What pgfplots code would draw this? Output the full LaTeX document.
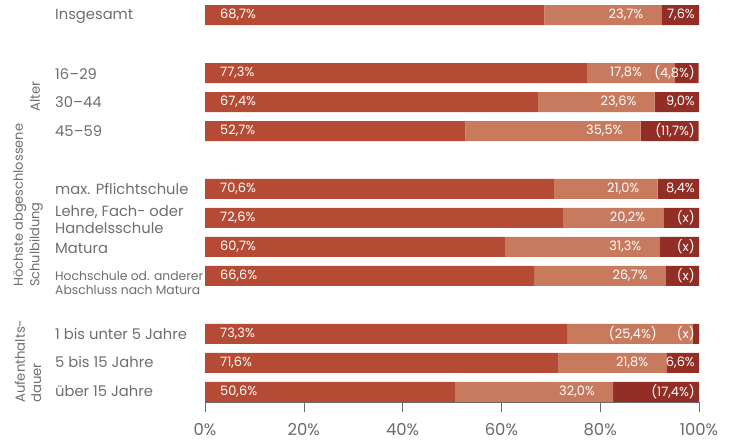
\documentclass[border=0pt]{standalone}
\usepackage{pgfplots}
\pgfplotsset{compat=1.18}
\usepackage{fontspec}
\setmainfont{Poppins}
\definecolor{cA}{HTML}{B54B34}
\definecolor{cB}{HTML}{C87A5E}
\definecolor{cC}{HTML}{922E25}
\definecolor{txt}{HTML}{6E6E6E}
\definecolor{axc}{HTML}{6A6A6A}
\begin{document}
\begin{tikzpicture}
\path[use as bounding box] (0,0) rectangle (732bp,443bp);
\begin{axis}[at={(205bp,41bp)}, anchor=south west, scale only axis,
  width=494bp, height=402bp,
  xmin=0, xmax=100, ymin=-13.35, ymax=0.52,
  xbar stacked, bar width=20bp,
  axis x line*=bottom, axis y line*=left,
  y axis line style={draw=none},
  x axis line style={draw=axc, line width=0.6pt},
  xtick={0,20,...,100},
  xticklabel={\pgfmathprintnumber{\tick}\%},
  /pgf/number format/assume math mode=true,
  x tick label style={font=\fontsize{16.5}{19}\selectfont, text=axc, yshift=-8bp},
  x tick style={draw=axc, line width=0.6pt},
  tick align=outside, major tick length=10bp,
  ytick=\empty,
  clip=false,
]
\addplot[fill=cA, draw=none] coordinates {(68.7,0) (77.3,-2) (67.4,-3) (52.7,-4) (70.6,-6) (72.6,-7) (60.7,-8) (66.6,-9) (73.3,-11) (71.6,-12) (50.6,-13)};
\addplot[fill=cB, draw=none] coordinates {(23.7,0) (17.8,-2) (23.6,-3) (35.5,-4) (21.0,-6) (20.2,-7) (31.3,-8) (26.7,-9) (25.4,-11) (21.8,-12) (32.0,-13)};
\addplot[fill=cC, draw=none] coordinates {(7.6,0) (4.8,-2) (9.0,-3) (11.7,-4) (8.4,-6) (7.2,-7) (8.0,-8) (6.7,-9) (1.3,-11) (6.6,-12) (17.4,-13)};
\coordinate (a0) at (axis cs:0,0);   \coordinate (b0) at (axis cs:92.4,0);  \coordinate (c0) at (axis cs:100,0);
\coordinate (a2) at (axis cs:0,-2);  \coordinate (b2) at (axis cs:88.5,-2); \coordinate (c2) at (axis cs:100,-2);
\coordinate (a3) at (axis cs:0,-3);  \coordinate (b3) at (axis cs:91.0,-3); \coordinate (c3) at (axis cs:100,-3);
\coordinate (a4) at (axis cs:0,-4);  \coordinate (b4) at (axis cs:88.2,-4); \coordinate (c4) at (axis cs:100,-4);
\coordinate (a6) at (axis cs:0,-6);  \coordinate (b6) at (axis cs:91.6,-6); \coordinate (c6) at (axis cs:100,-6);
\coordinate (a7) at (axis cs:0,-7);  \coordinate (b7) at (axis cs:92.8,-7); \coordinate (c7) at (axis cs:100,-7);
\coordinate (a8) at (axis cs:0,-8);  \coordinate (b8) at (axis cs:92.0,-8); \coordinate (c8) at (axis cs:100,-8);
\coordinate (a9) at (axis cs:0,-9);  \coordinate (b9) at (axis cs:93.3,-9); \coordinate (c9) at (axis cs:100,-9);
\coordinate (a11) at (axis cs:0,-11); \coordinate (b11) at (axis cs:91.5,-11); \coordinate (c11) at (axis cs:100,-11);
\coordinate (a12) at (axis cs:0,-12); \coordinate (b12) at (axis cs:93.4,-12); \coordinate (c12) at (axis cs:100,-12);
\coordinate (a13) at (axis cs:0,-13); \coordinate (b13) at (axis cs:82.6,-13); \coordinate (c13) at (axis cs:100,-13);
\end{axis}
\tikzset{lbl/.style={text=white, font=\fontsize{13}{15}\selectfont, inner sep=0pt},
  l1/.style={lbl, anchor=west, xshift=15bp},
  l2/.style={lbl, anchor=east, xshift=-18bp},
  l3/.style={lbl, anchor=east, xshift=-4bp}}
% first segment labels
\node[l1] at (a0) {68,7\%};
\node[l1] at (a2) {77,3\%};
\node[l1] at (a3) {67,4\%};
\node[l1] at (a4) {52,7\%};
\node[l1] at (a6) {70,6\%};
\node[l1] at (a7) {72,6\%};
\node[l1] at (a8) {60,7\%};
\node[l1] at (a9) {66,6\%};
\node[l1] at (a11) {73,3\%};
\node[l1] at (a12) {71,6\%};
\node[l1] at (a13) {50,6\%};
% second segment labels
\node[l2] at (b0) {23,7\%};
\node[lbl, anchor=east] at (b2) {17,8\%};
\node[l2] at (b3) {23,6\%};
\node[l2] at (b4) {35,5\%};
\node[l2] at (b6) {21,0\%};
\node[l2] at (b7) {20,2\%};
\node[l2] at (b8) {31,3\%};
\node[l2] at (b9) {26,7\%};
\node[lbl, anchor=east] at (b11) {(25,4\%)};
\node[l2] at (b12) {21,8\%};
\node[l2] at (b13) {32,0\%};
% third segment labels
\node[l3] at (c0) {7,6\%};
\node[l3] at (c2) {(4,8\%)};
\node[l3] at (c3) {9,0\%};
\node[l3] at (c4) {(11,7\%)};
\node[l3] at (c6) {8,4\%};
\node[l3] at (c7) {(x)};
\node[l3] at (c8) {(x)};
\node[l3] at (c9) {(x)};
\node[l3] at (c11) {(x)};
\node[l3] at (c12) {6,6\%};
\node[l3] at (c13) {(17,4\%)};
\tikzset{cat/.style={text=txt, font=\fontsize{14.8}{17}\selectfont, inner sep=0pt, anchor=west, align=left}}
\node[cat] at (55bp,427bp) {Insgesamt};
\node[cat] at (55bp,369bp) {16–29};
\node[cat] at (55bp,341bp) {30–44};
\node[cat] at (55bp,312bp) {45–59};
\node[cat] at (55bp,254bp) {max. Pflichtschule};
\node[cat] at (55bp,223bp) {Lehre, Fach- oder\\Handelsschule};
\node[cat] at (55bp,195bp) {Matura};
\node[cat, font=\fontsize{12.4}{13.8}\selectfont] at (55bp,160bp) {Hochschule od. anderer\\Abschluss nach Matura};
\node[cat] at (55bp,109bp) {1 bis unter 5 Jahre};
\node[cat] at (55bp,81bp) {5 bis 15 Jahre};
\node[cat] at (55bp,52bp) {über 15 Jahre};
\node[cat, rotate=90, font=\fontsize{13.3}{16.5}\selectfont] at (35bp,331bp) {Alter};
\node[cat, rotate=90, font=\fontsize{13}{16.5}\selectfont] at (28bp,156bp) {Höchste abgeschlossene\\Schulbildung};
\node[cat, rotate=90, font=\fontsize{13.3}{16.5}\selectfont] at (28bp,40bp) {Aufenthalts-\\dauer};
\end{tikzpicture}
\end{document}
